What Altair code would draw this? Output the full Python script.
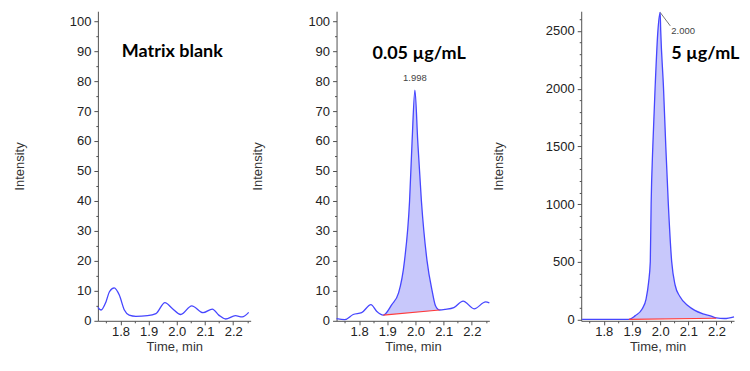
import altair as alt
import pandas as pd

# ---------------- data ----------------
X_DOMAIN = [1.72, 2.262]
x_tick_values = [1.75, 1.8, 1.85, 1.9, 1.95, 2.0, 2.05, 2.1, 2.15, 2.2, 2.25]

# Panel 1: matrix blank
blank_t = [1.720, 1.731, 1.749, 1.761, 1.778, 1.796, 1.814, 1.831, 1.855, 1.896, 1.926,
           1.958, 1.984, 2.014, 2.053, 2.093, 2.126, 2.149, 2.173, 2.208, 2.232, 2.255]
blank_y = [4.5, 3.6, 6.4, 9.7, 11.0, 8.6, 3.6, 1.9, 1.5, 1.7, 2.4,
           6.1, 4.1, 2.1, 5.0, 2.7, 3.9, 1.9, 0.6, 1.7, 1.3, 2.8]

# Panel 2: 0.05 ug/mL
low_t = [1.720, 1.749, 1.779, 1.809, 1.842, 1.862, 1.886, 1.916, 1.940, 1.961, 1.979, 1.988,
         1.998, 2.008, 2.021, 2.041, 2.059, 2.071, 2.085, 2.106, 2.136, 2.169, 2.208, 2.249, 2.262]
low_y = [0.7, 0.4, 2.1, 2.7, 5.4, 3.2, 1.9, 5.4, 9.3, 20, 40, 60,
         77, 60, 40, 20, 10, 5, 3.6, 3.8, 4.4, 6.6, 4.0, 6.3, 6.0]
low_base_t = [1.886, 2.085]
low_base_y = [1.9, 3.6]

# Panel 3: 5 ug/mL
high_t = [1.723, 1.800, 1.889, 1.912, 1.936, 1.950, 1.959, 1.965, 1.968, 1.974, 1.982, 1.992,
          2.000, 2.002, 2.012, 2.020, 2.029, 2.041, 2.053, 2.070, 2.099, 2.123, 2.152, 2.181,
          2.199, 2.228, 2.262]
high_y = [3, 3, 3, 35, 92, 178, 323, 500, 1000, 1500, 2000, 2500,
          2660, 2500, 2000, 1500, 1000, 500, 300, 200, 120, 80, 50, 30,
          15, 10, 25]
high_base_t = [1.889, 2.199]
high_base_y = [3, 12]

panel_titles = ["Matrix blank", "0.05 µg/mL", "5 µg/mL"]
panel_title_t = [1.984, 2.013, 2.160]
panel_title_y = [88, 87.3, 2260]

# peak annotations: apex position, leader end, text
low_peak = {"t": 1.998, "y": 77, "t2": 1.998, "y2": 77, "text": "1.998"}
high_peak = {"t": 2.000, "y": 2660, "t2": 2.036, "y2": 2543, "text": "2.000"}

y_ticks_small = list(range(0, 101, 5))
y_ticks_big = list(range(0, 2601, 100))

# ---------------- styling ----------------
LINE = "#4646ff"
FILL = "#c8c8fb"
BASE = "#ff3b3b"
AX = "#505050"
FONT = "Liberation Sans"
W, H = 153, 310


def x_enc():
    test = "abs(datum.value*10 - round(datum.value*10)) < 0.001"
    return alt.X(
        "t:Q",
        scale=alt.Scale(domain=X_DOMAIN, nice=False, zero=False),
        axis=alt.Axis(
            values=x_tick_values,
            title="Time, min",
            labelExpr=f"{test} ? format(datum.value, '.1f') : ''",
            tickSize={"condition": {"test": test, "value": 4}, "value": 2},
            labelPadding=1,
            titlePadding=2,
        ),
    )


def y_enc(domain, ticks, major, title_pad):
    test = f"abs(datum.value % {major}) < 0.001"
    return alt.Y(
        "y:Q",
        scale=alt.Scale(domain=domain, nice=False, zero=False),
        axis=alt.Axis(
            values=ticks,
            title="Intensity",
            format="d",
            labelExpr=f"{test} ? datum.label : ''",
            tickSize={"condition": {"test": test, "value": 4}, "value": 2},
            labelPadding=3,
            titlePadding=title_pad,
        ),
    )


def panel(t, y, ydomain, yticks, major, title_pad, idx, win=None, base_y=None, peak=None, leader=False):
    df = pd.DataFrame({"t": t, "y": y})
    X = x_enc()
    Y = y_enc(ydomain, yticks, major, title_pad)
    layers = []
    if win is not None:
        t0, t1 = win
        b0, b1 = base_y
        area = (
            alt.Chart(df)
            .transform_filter(f"datum.t >= {t0} && datum.t <= {t1}")
            .transform_calculate(b=f"{b0} + ({b1} - {b0}) * (datum.t - {t0}) / ({t1} - {t0})")
            .mark_area(interpolate="monotone", color=FILL, opacity=1)
            .encode(x=X, y=Y, y2="b:Q")
        )
        layers.append(area)
    line = alt.Chart(df).mark_line(interpolate="monotone", color=LINE, strokeWidth=1.3).encode(x=X, y=Y)
    layers.append(line)
    if win is not None:
        bdf = pd.DataFrame({"t": list(win), "y": list(base_y)})
        base = alt.Chart(bdf).mark_line(color=BASE, strokeWidth=1.2).encode(x=X, y=Y)
        layers.append(base)
    tdf = pd.DataFrame({"t": [panel_title_t[idx]], "y": [panel_title_y[idx]], "text": [panel_titles[idx]]})
    ttl = alt.Chart(tdf).mark_text(
        font="Lato", fontSize=18, fontWeight="bold", color="#000", baseline="alphabetic", align="center"
    ).encode(x=X, y=Y, text="text:N")
    layers.append(ttl)
    if peak is not None:
        pdf = pd.DataFrame([peak])
        if leader:
            lead = alt.Chart(pdf).mark_rule(color="#555", strokeWidth=0.8).encode(
                x=X, y=Y, x2="t2:Q", y2="y2:Q"
            )
            layers.append(lead)
            edf = pd.DataFrame({"t": [peak["t2"]], "y": [peak["y2"]], "text": [peak["text"]]})
            lbl = alt.Chart(edf).mark_text(
                font=FONT, fontSize=9.5, color="#444", baseline="top", align="left", dx=1
            ).encode(x=X, y=Y, text="text:N")
        else:
            lbl = alt.Chart(pdf).mark_text(
                font=FONT, fontSize=9.5, color="#444", baseline="bottom", align="center", dy=-7
            ).encode(x=X, y=Y, text="text:N")
        layers.append(lbl)
    return alt.layer(*layers).properties(width=W, height=H)


p1 = panel(blank_t, blank_y, [0, 103.3], y_ticks_small, 10, 43, 0)
p2 = panel(low_t, low_y, [0, 103.3], y_ticks_small, 10, 43, 1,
           win=low_base_t, base_y=low_base_y, peak=low_peak)
p3 = panel(high_t, high_y, [-10, 2670], y_ticks_big, 500, 39.5, 2,
           win=high_base_t, base_y=high_base_y, peak=high_peak, leader=True)

chart = (
    alt.hconcat(p1, p2, p3, spacing=0)
    .properties(padding={"left": 5, "top": 1, "right": 2, "bottom": 2})
    .configure_view(stroke=None)
    .configure_axis(
        labelFont=FONT,
        labelFontSize=13,
        labelColor="#222",
        titleFont=FONT,
        titleFontSize=13,
        titleFontWeight="normal",
        titleColor="#333",
        domainColor=AX,
        tickColor=AX,
        grid=False,
    )
)

chart.save("out.html", embed_options={"renderer": "svg", "actions": False})
